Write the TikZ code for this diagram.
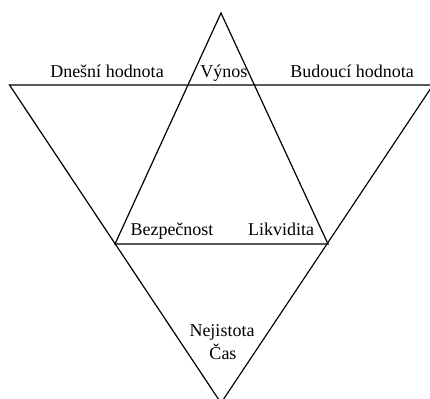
\documentclass[tikz,border=0pt]{standalone}
\usepackage{fontspec}
\setmainfont{Liberation Serif}
\usepackage{tikz}

\begin{document}
\begin{tikzpicture}[
  x=0.5pt, y=-0.5pt,
  tri/.style={draw, line width=0.6pt, line join=miter},
  lbl/.style={font=\fontsize{9}{11}\selectfont, inner sep=0pt, anchor=base}
]
\useasboundingbox (0,0) rectangle (430,399);

% downward triangle
\coordinate (dl) at (9.5,85);
\coordinate (dr) at (433,85);
\coordinate (db) at (221,403);
% upward triangle
\coordinate (ut) at (221,13);
\coordinate (ul) at (115,244);
\coordinate (ur) at (328,244);

\draw[tri] (dl) -- (dr) -- (db) -- cycle;
\draw[tri] (ut) -- (ul) -- (ur) -- cycle;

\node[lbl] (dnes) at (107,77.5) {Dnešní hodnota};
\node[lbl] (vynos) at (224,77.5) {Výnos};
\node[lbl] (bud) at (352,77.5) {Budoucí hodnota};
\node[lbl] (bezp) at (172,236) {Bezpečnost};
\node[lbl] (likv) at (281,236) {Likvidita};
\node[lbl] (nejist) at (222,337) {Nejistota};
\node[lbl] (cas) at (223,360) {Čas};
\end{tikzpicture}
\end{document}
